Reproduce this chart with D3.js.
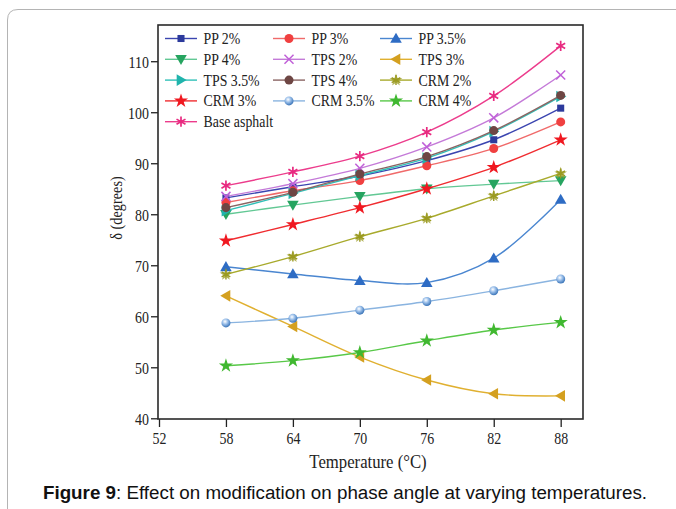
<!DOCTYPE html>
<html>
<head>
<meta charset="utf-8">
<script src="https://cdn.jsdelivr.net/npm/d3@7"></script>
<style>
  body { margin: 0; background: #fff; }
  svg { display: block; }
</style>
</head>
<body>
<svg id="chart" width="676" height="509"></svg>
<script>
// Phase angle δ (degrees) of binders at each test temperature (°C)
const temperatures = [58, 64, 70, 76, 82, 88];
const xTicks = [52, 58, 64, 70, 76, 82, 88];
const yTicks = [40, 50, 60, 70, 80, 90, 100, 110];

const seriesNames = ["PP 2%", "PP 3%", "PP 3.5%", "PP 4%", "TPS 2%", "TPS 3%",
  "TPS 3.5%", "TPS 4%", "CRM 2%", "CRM 3%", "CRM 3.5%", "CRM 4%", "Base asphalt"];

const pp2   = [83.2, 85.4, 87.5, 90.5, 94.6, 100.8];
const pp3   = [82.3, 84.6, 86.6, 89.5, 92.9, 98.1];
const pp35  = [69.7, 68.3, 67.0, 66.6, 71.4, 82.9];
const pp4   = [80.0, 81.8, 83.5, 85.0, 85.9, 86.6];
const tps2  = [83.5, 86.0, 89.0, 93.2, 98.9, 107.3];
const tps3  = [64.0, 58.0, 52.0, 47.5, 44.8, 44.4];
const tps35 = [80.7, 84.1, 87.6, 91.0, 96.2, 103.1];
const tps4  = [81.3, 84.3, 87.9, 91.3, 96.4, 103.3];
const crm2  = [68.2, 71.7, 75.6, 79.2, 83.6, 88.0];
const crm3  = [74.8, 78.0, 81.3, 85.0, 89.2, 94.6];
const crm35 = [58.7, 59.6, 61.2, 62.9, 65.0, 67.3];
const crm4  = [50.3, 51.3, 52.9, 55.2, 57.3, 58.8];
const base  = [85.6, 88.3, 91.4, 96.1, 103.2, 113.0];

const seriesValues = [pp2, pp3, pp35, pp4, tps2, tps3, tps35, tps4, crm2, crm3, crm35, crm4, base];

// Line colour, marker colour and marker shape for each series
const lineColors   = ["#3b45b0", "#f06a6a", "#4a86d0", "#62c894", "#c47ad8", "#e0b030",
  "#30c0b8", "#8a6462", "#a8aa2c", "#f02c30", "#8ab4e0", "#58c848", "#ec3c8c"];
const markerColors = ["#2c3a9c", "#f04040", "#2e6cc4", "#26a460", "#c060d8", "#d4a020",
  "#20b4ac", "#6e4644", "#9a9a20", "#f01820", "#4a86c8", "#40b830", "#e82a80"];
const markerShapes = ["square", "circle", "triUp", "triDown", "times", "triLeft",
  "triRight", "circle", "asterStar", "star", "sphere", "star", "asterisk"];

const svg = d3.select("#chart");
const W = 676, H = 509;
const margin = { left: 158, top: 25, right: 583, bottom: 419 };
const serif = "'Liberation Serif', 'Times New Roman', serif";
const squeeze = 0.82;

// Outer figure frame (rounded top-left corner)
svg.append("path")
  .attr("d", `M7.5,${H} L7.5,20 Q7.5,9.5 18,9.5 L${W},9.5`)
  .attr("fill", "none").attr("stroke", "#b4b4b4").attr("stroke-width", 1);

const x = d3.scaleLinear().domain([52, 90]).range([margin.left + 1, margin.right]);
const y = d3.scaleLinear().domain([40, 117.1]).range([margin.bottom - 0.7, margin.top]);

// Gradient for the shaded sphere marker
const defs = svg.append("defs");
const grad = defs.append("radialGradient").attr("id", "sphereGrad")
  .attr("cx", "40%").attr("cy", "35%").attr("r", "65%");
grad.append("stop").attr("offset", "0%").attr("stop-color", "#ffffff");
grad.append("stop").attr("offset", "45%").attr("stop-color", "#9cc0ea");
grad.append("stop").attr("offset", "100%").attr("stop-color", "#3a74b8");

function drawMarker(g, shape, cx, cy, color) {
  const t = `translate(${cx},${cy})`;
  const sym = (type, size) => d3.symbol().type(type).size(size)();
  const timesType = d3.symbolTimes || d3.symbolCross;
  const asteriskType = d3.symbolAsterisk || d3.symbolCross;
  switch (shape) {
    case "square":
      g.append("path").attr("d", sym(d3.symbolSquare, 50)).attr("transform", t).attr("fill", color);
      break;
    case "circle":
      g.append("path").attr("d", sym(d3.symbolCircle, 64)).attr("transform", t).attr("fill", color);
      break;
    case "sphere":
      g.append("path").attr("d", sym(d3.symbolCircle, 64)).attr("transform", t).attr("fill", "url(#sphereGrad)");
      break;
    case "triUp":
      g.append("path").attr("d", sym(d3.symbolTriangle, 58)).attr("transform", t + " translate(0,1)").attr("fill", color);
      break;
    case "triDown":
      g.append("path").attr("d", sym(d3.symbolTriangle, 58)).attr("transform", t + " rotate(180) translate(0,1)").attr("fill", color);
      break;
    case "triLeft":
      g.append("path").attr("d", sym(d3.symbolTriangle, 58)).attr("transform", t + " rotate(-90) translate(0,1)").attr("fill", color);
      break;
    case "triRight":
      g.append("path").attr("d", sym(d3.symbolTriangle, 58)).attr("transform", t + " rotate(90) translate(0,1)").attr("fill", color);
      break;
    case "times":
      g.append("path").attr("d", sym(timesType, 55)).attr("transform", t)
        .attr("fill", "none").attr("stroke", color).attr("stroke-width", 1.5);
      break;
    case "star":
      g.append("path").attr("d", sym(d3.symbolStar, 62)).attr("transform", t).attr("fill", color);
      break;
    case "asterStar":
      g.append("path").attr("d", sym(d3.symbolStar, 50)).attr("transform", t).attr("fill", color).attr("opacity", 0.75);
      g.append("path").attr("d", sym(asteriskType, 70)).attr("transform", t)
        .attr("fill", "none").attr("stroke", color).attr("stroke-width", 1.4);
      break;
    case "asterisk":
      g.append("path").attr("d", sym(asteriskType, 75)).attr("transform", t)
        .attr("fill", "none").attr("stroke", color).attr("stroke-width", 1.7);
      break;
  }
}

// Axes
const xAxis = d3.axisBottom(x).tickValues(xTicks).tickSize(8).tickPadding(5).tickFormat(d3.format("d"));
const yAxis = d3.axisLeft(y).tickValues(yTicks).tickSize(7).tickPadding(4).tickFormat(d3.format("d"));

const gx = svg.append("g").attr("transform", `translate(0,${margin.bottom})`).call(xAxis);
const gy = svg.append("g").attr("transform", `translate(${margin.left},0)`).call(yAxis);
[gx, gy].forEach(g => {
  g.select(".domain").remove();
  g.selectAll(".tick line").attr("stroke", "#222").attr("stroke-width", 1.3);
  g.selectAll(".tick text").attr("font-family", serif).attr("font-size", 17).attr("fill", "#222");
});
gx.selectAll(".tick text").attr("transform", `scale(${squeeze},1)`);
gy.selectAll(".tick text").attr("transform", `scale(${squeeze},1)`).attr("dy", "0.34em");

// Plot frame
svg.append("rect")
  .attr("x", margin.left).attr("y", margin.top)
  .attr("width", margin.right - margin.left).attr("height", margin.bottom - margin.top)
  .attr("fill", "none").attr("stroke", "#2a2a2a").attr("stroke-width", 1.6);

// Axis titles
svg.append("text")
  .attr("transform", `translate(368,468) scale(0.88,1)`)
  .attr("text-anchor", "middle").attr("font-family", serif).attr("font-size", 19).attr("fill", "#222")
  .text("Temperature (°C)");
svg.append("text")
  .attr("transform", `translate(122,208) rotate(-90) scale(0.84,1)`)
  .attr("text-anchor", "middle").attr("font-family", serif).attr("font-size", 17).attr("fill", "#222")
  .text("δ (degrees)");

// Series lines and markers
const line = d3.line()
  .x((d, i) => x(temperatures[i]))
  .y(d => y(d))
  .curve(d3.curveCatmullRom.alpha(0.5));

const plot = svg.append("g");
seriesValues.forEach((vals, k) => {
  const g = plot.append("g");
  g.append("path").attr("d", line(vals))
    .attr("fill", "none").attr("stroke", lineColors[k]).attr("stroke-width", 1.4);
  vals.forEach((v, i) => drawMarker(g, markerShapes[k], x(temperatures[i]), y(v), markerColors[k]));
});

// Legend: three columns
const legendCols = [165, 273, 380];
const legendRow0 = 38.5, legendRowStep = 20.8;
const legend = svg.append("g");
seriesNames.forEach((name, k) => {
  const cx = legendCols[k % 3];
  const cy = legendRow0 + Math.floor(k / 3) * legendRowStep;
  const g = legend.append("g");
  g.append("line").attr("x1", cx).attr("x2", cx + 32).attr("y1", cy).attr("y2", cy)
    .attr("stroke", lineColors[k]).attr("stroke-width", 1.4);
  drawMarker(g, markerShapes[k], cx + 16, cy, markerColors[k]);
  g.append("text")
    .attr("transform", `translate(${cx + 38.5},${cy + 5.5}) scale(0.84,1)`)
    .attr("font-family", serif).attr("font-size", 16.5).attr("fill", "#222")
    .text(name);
});

// Caption
const caption = svg.append("text")
  .attr("x", 345).attr("y", 499).attr("text-anchor", "middle")
  .attr("font-family", "'Liberation Sans', Arial, sans-serif").attr("font-size", 18.8).attr("fill", "#111");
caption.append("tspan").attr("font-weight", "bold").text("Figure 9");
caption.append("tspan").text(": Effect on modification on phase angle at varying temperatures.");
</script>
</body>
</html>
